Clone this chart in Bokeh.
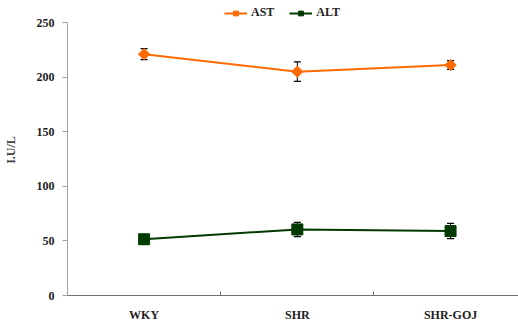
import math
from bokeh.plotting import figure
from bokeh.models import (ColumnDataSource, Range1d, LinearAxis, FixedTicker,
                          Whisker, TeeHead, Legend, LegendItem)
from bokeh.embed import file_html
from bokeh.resources import INLINE

groups = ["WKY", "SHR", "SHR-GOJ"]
ast = [221, 205, 211]
ast_err = [5, 9, 4]
alt = [51.5, 60.5, 59]
alt_err = [4, 6.5, 7]
y_ticks = [0, 50, 100, 150, 200, 250]

xs = [i + 0.5 for i in range(len(groups))]
bounds = [float(i) for i in range(1, len(groups))]

FONT = "Liberation Serif"
AST_C = "#FF6A00"
ALT_C = "#003A00"
PX_PER_UNIT = 273 / 250
HEADROOM = 18  # px above the 250 line for the legend
FH = 273 + HEADROOM

p = figure(frame_width=452, frame_height=FH, output_backend="svg", toolbar_location=None,
           x_range=Range1d(0, 2.95), y_range=Range1d(0, 250 + HEADROOM / PX_PER_UNIT),
           x_axis_type=None, y_axis_type=None,
           min_border_left=58, min_border_right=0, min_border_top=4, min_border_bottom=3)
p.outline_line_color = None
p.xgrid.visible = False
p.ygrid.visible = False

yax = LinearAxis(ticker=FixedTicker(ticks=y_ticks), axis_label="I.U/L",
                 bounds=(0, 250))
yax.axis_line_color = "#A0A0A0"
yax.major_tick_line_color = "#A0A0A0"
yax.major_tick_in = 0
yax.major_tick_out = 5
yax.minor_tick_line_color = None
yax.major_label_text_font = FONT
yax.major_label_text_font_style = "bold"
yax.major_label_text_font_size = "12px"
yax.major_label_text_color = "#222222"
yax.major_label_standoff = 8
yax.axis_label_text_font = FONT
yax.axis_label_text_font_style = "bold"
yax.axis_label_text_font_size = "12px"
yax.axis_label_standoff = 16
p.add_layout(yax, "left")

tax = LinearAxis(ticker=FixedTicker(ticks=bounds),
                 major_label_overrides={b: " " for b in bounds})
tax.axis_line_color = "#707070"
tax.major_tick_line_color = "#707070"
tax.major_tick_in = 4
tax.major_tick_out = 0
tax.minor_tick_line_color = None
tax.major_label_text_font_size = "1px"
tax.major_label_standoff = 0
p.add_layout(tax, "below")

lax = LinearAxis(ticker=FixedTicker(ticks=xs),
                 major_label_overrides={x: g for x, g in zip(xs, groups)})
lax.axis_line_color = None
lax.major_tick_line_color = None
lax.minor_tick_line_color = None
lax.major_label_text_font = FONT
lax.major_label_text_font_style = "bold"
lax.major_label_text_font_size = "12px"
lax.major_label_text_color = "#222222"
lax.major_label_standoff = 2
p.add_layout(lax, "below")

src = ColumnDataSource(dict(
    x=xs, ast=ast, alt=alt,
    ast_lo=[v - e for v, e in zip(ast, ast_err)], ast_hi=[v + e for v, e in zip(ast, ast_err)],
    alt_lo=[v - e for v, e in zip(alt, alt_err)], alt_hi=[v + e for v, e in zip(alt, alt_err)],
))

l1 = p.line("x", "ast", source=src, line_color=AST_C, line_width=2)
m1 = p.scatter("x", "ast", source=src, marker="square", angle=math.pi / 4, size=8,
               fill_color=AST_C, line_color=AST_C)
l2 = p.line("x", "alt", source=src, line_color=ALT_C, line_width=2)
m2 = p.scatter("x", "alt", source=src, marker="square", size=11, fill_color=ALT_C, line_color=ALT_C)

for lo, hi in (("ast_lo", "ast_hi"), ("alt_lo", "alt_hi")):
    w = Whisker(source=src, base="x", lower=lo, upper=hi, line_color="black", line_width=1,
                upper_head=TeeHead(size=7, line_color="black", line_width=1.2),
                lower_head=TeeHead(size=7, line_color="black", line_width=1.2))
    p.add_layout(w)

leg = Legend(items=[LegendItem(label="AST", renderers=[l1, m1]),
                    LegendItem(label="ALT", renderers=[l2, m2])],
             orientation="horizontal", location=(157, FH - 16),
             label_text_font=FONT, label_text_font_style="bold",
             label_text_font_size="12px", label_text_color="#222222",
             glyph_width=23, glyph_height=12, label_standoff=4, spacing=15,
             padding=0, margin=0, border_line_color=None, background_fill_alpha=0)
p.add_layout(leg)

open("out.html", "w").write(file_html(p, INLINE))
